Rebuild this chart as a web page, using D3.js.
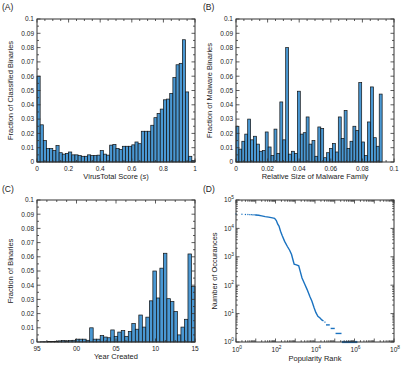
<!DOCTYPE html>
<html>
<head>
<meta charset="utf-8">
<script src="https://cdn.jsdelivr.net/npm/d3@7"></script>
<style>
  body { margin: 0; background: #fff; }
  text { font-family: "Liberation Sans", Arial, sans-serif; fill: #222; }
</style>
</head>
<body>
<div id="fig"></div>
<script>
const w = 415;
const h = 381;

// (A) VirusTotal score histogram, 50 bins over [0, 1]
const scoreRange = [0, 1];
const scoreFrac = [0.060, 0.026, 0.015, 0.0095, 0.0095, 0.008, 0.0115, 0.0065, 0.0055, 0.006,
  0.007, 0.005, 0.005, 0.0045, 0.004, 0.004, 0.005, 0.0045, 0.0045, 0.0048,
  0.008, 0.0055, 0.0048, 0.0118, 0.0123, 0.0095, 0.0088, 0.011, 0.011, 0.011,
  0.012, 0.014, 0.0128, 0.0215, 0.0215, 0.0215, 0.0257, 0.031, 0.034, 0.037,
  0.0435, 0.044, 0.048, 0.059, 0.068, 0.069, 0.0855, 0.049, 0.004, 0.001];
const scoreTicks = [0, 0.2, 0.4, 0.6, 0.8, 1];

// (B) relative family size histogram, 50 bins over [0, 0.0925]
const familyRange = [0, 0.0925];
const familyFrac = [0.025, 0.009, 0.0145, 0.0195, 0.030, 0.0155, 0.018, 0.0125, 0.0075, 0.008,
  0.021, 0.0105, 0.0045, 0.023, 0.006, 0.042, 0.0155, 0.080, 0.0055, 0.0075,
  0.006, 0.0495, 0.0195, 0.0205, 0.0315, 0.0125, 0.015, 0.004, 0.0245, 0.0235,
  0.003, 0.0065, 0.0095, 0.013, 0.007, 0.0315, 0.0165, 0.036, 0.0095, 0.0145,
  0.025, 0.022, 0.0555, 0.014, 0.0045, 0.028, 0.0525, 0.017, 0.011, 0.0475];
const familyTicks = [0, 0.02, 0.04, 0.06, 0.08, 0.1];

// (C) year created histogram, 45 bins over [1995, 2015]
const yearRange = [1995, 2015];
const yearFrac = [0, 0.0002, 0.0002, 0.0003, 0.0003, 0.0005, 0.0008, 0.001, 0.0008, 0.001,
  0.0012, 0.002, 0.002, 0.002, 0.0012, 0.010, 0.002, 0.002, 0.0045, 0.0035,
  0.003, 0.0085, 0.004, 0.007, 0.008, 0.004, 0.0075, 0.013, 0.009, 0.019,
  0.0105, 0.0175, 0.029, 0.050, 0.031, 0.052, 0.0625, 0.0305, 0.0285, 0.0215,
  0.005, 0.0105, 0.016, 0.062, 0.039];
const yearTicks = [1995, 2000, 2005, 2010, 2015];
const yearLabels = ["95", "00", "05", "10", "15"];

const fracTicks = [0, 0.01, 0.02, 0.03, 0.04, 0.05, 0.06, 0.07, 0.08, 0.09, 0.1];

// (D) popularity rank vs occurrences
const rank = [1, 2, 3, 4, 5, 6, 7, 8, 9, 10, 14, 20, 30, 45, 70, 90, 110, 130, 150, 180,
  220, 290, 400, 520, 650, 800, 880, 1150, 1500, 1800, 2200, 3000, 4000, 5500, 7000,
  9000, 11000, 14000, 18000, 22000, 27000];
const occur = [32000, 31500, 31000, 31000, 30500, 30500, 30000, 30000, 30000, 29500, 29000, 27500,
  26000, 25000, 23500, 22500, 19000, 14000, 12000, 8000, 5500, 3500, 2300, 1700, 1200,
  700, 550, 520, 480, 300, 180, 110, 70, 40, 27, 16, 11, 8, 7, 6, 5.5];
const tailLevel = [5, 4, 3, 2, 1];
const tailFrom = [30000, 36000, 62000, 110000, 230000];
const tailTo = [34000, 56000, 100000, 220000, 1400000];
const rankTicks = [1, 100, 1e4, 1e6, 1e8];
const occurTicks = [1, 10, 100, 1000, 1e4, 1e5];

const blue = "#4a98d3";
const axisCol = "#333";

const svg = d3.select("#fig").append("svg")
  .attr("width", w).attr("height", h);

const boxes = {
  A: { x0: 37, x1: 195, y0: 19, y1: 162 },
  B: { x0: 236, x1: 394, y0: 19, y1: 162 },
  C: { x0: 37, x1: 195, y0: 200, y1: 342 },
  D: { x0: 236, x1: 394, y0: 200, y1: 342 }
};

const tickFmt = d => d === 0 ? "0" : d3.format(".2~f")(d);

const minorsBetween = (ticks, n) => {
  const out = [];
  for (let i = 0; i < ticks.length - 1; i++) {
    const step = (ticks[i + 1] - ticks[i]) / n;
    for (let k = 1; k < n; k++) out.push(ticks[i] + k * step);
  }
  return out;
};

const frame = (g, b) => {
  g.append("rect")
    .attr("x", b.x0).attr("y", b.y0)
    .attr("width", b.x1 - b.x0).attr("height", b.y1 - b.y0)
    .attr("fill", "none").attr("stroke", axisCol).attr("stroke-width", 1);
};

const drawTicks = (g, b, xs, ys, xVals, yVals, len) => {
  g.selectAll(null).data(xVals).enter().append("path")
    .attr("d", d => `M${xs(d)},${b.y1}v${-len}M${xs(d)},${b.y0}v${len}`)
    .attr("stroke", axisCol).attr("stroke-width", 0.8);
  g.selectAll(null).data(yVals).enter().append("path")
    .attr("d", d => `M${b.x0},${ys(d)}h${len}M${b.x1},${ys(d)}h${-len}`)
    .attr("stroke", axisCol).attr("stroke-width", 0.8);
};

const panelLabel = (x, y, t) => {
  svg.append("text").attr("x", x).attr("y", y)
    .attr("font-size", 8.5).text(t);
};

const axisTitles = (g, b, xTitle, yTitle, xOff, yOff) => {
  const xt = g.append("text")
    .attr("x", (b.x0 + b.x1) / 2).attr("y", b.y1 + xOff)
    .attr("text-anchor", "middle").attr("font-size", 7.5);
  xTitle(xt);
  g.append("text")
    .attr("transform", `translate(${b.x0 - yOff},${(b.y0 + b.y1) / 2}) rotate(-90)`)
    .attr("text-anchor", "middle").attr("font-size", 7.5)
    .text(yTitle);
};

const histPanel = (b, range, values, xTicks, xLabels, xMinorN, xTitle, yTitle) => {
  const g = svg.append("g");
  const xs = d3.scaleLinear().domain([xTicks[0], xTicks[xTicks.length - 1]]).range([b.x0, b.x1]);
  const ys = d3.scaleLinear().domain([0, 0.1]).range([b.y1, b.y0]);
  const bw = (range[1] - range[0]) / values.length;

  g.selectAll("rect.bar").data(values).enter().append("rect")
    .attr("class", "bar")
    .attr("x", (d, i) => xs(range[0] + i * bw))
    .attr("y", d => ys(d))
    .attr("width", xs(range[0] + bw) - xs(range[0]))
    .attr("height", d => ys(0) - ys(d))
    .attr("fill", blue)
    .attr("stroke", "#111")
    .attr("stroke-width", 0.7);

  frame(g, b);
  drawTicks(g, b, xs, ys, xTicks, fracTicks, 3.5);
  drawTicks(g, b, xs, ys, minorsBetween(xTicks, xMinorN), minorsBetween(fracTicks, 2), 2);

  g.selectAll(null).data(xTicks).enter().append("text")
    .attr("x", d => xs(d)).attr("y", b.y1 + 9)
    .attr("text-anchor", "middle").attr("font-size", 6.5)
    .text((d, i) => xLabels[i]);
  g.selectAll(null).data(fracTicks).enter().append("text")
    .attr("x", b.x0 - 3).attr("y", d => ys(d) + 2.3)
    .attr("text-anchor", "end").attr("font-size", 6.5)
    .text(tickFmt);

  axisTitles(g, b, xTitle, yTitle, 17, 24);
};

// (A)
histPanel(boxes.A, scoreRange, scoreFrac, scoreTicks, scoreTicks.map(tickFmt), 4,
  t => { t.append("tspan").text("VirusTotal Score ("); t.append("tspan").attr("font-style", "italic").text("s"); t.append("tspan").text(")"); },
  "Fraction of Classified Binaries");
panelLabel(2, 10, "(A)");

// (B)
histPanel(boxes.B, familyRange, familyFrac, familyTicks, familyTicks.map(tickFmt), 4,
  t => t.text("Relative Size of Malware Family"),
  "Fraction of Malware Binaries");
panelLabel(203, 10, "(B)");

// (C)
histPanel(boxes.C, yearRange, yearFrac, yearTicks, yearLabels, 4,
  t => t.text("Year Created"),
  "Fraction of Binaries");
panelLabel(2, 192, "(C)");

// (D)
{
  const b = boxes.D;
  const g = svg.append("g");
  const xs = d3.scaleLog().domain([1, 1e8]).range([b.x0, b.x1]);
  const ys = d3.scaleLog().domain([1, 1e5]).range([b.y1, b.y0]);
  const line = "#1a72c0";

  const pts = rank.map((r, i) => [r, occur[i]]);
  // sparse ranks drawn as dots, the rest as a line
  g.selectAll("circle").data(pts.filter(p => p[0] <= 10)).enter().append("circle")
    .attr("cx", d => xs(d[0])).attr("cy", d => ys(d[1]))
    .attr("r", 0.7).attr("fill", line);
  g.append("path")
    .datum(pts.filter(p => p[0] >= 10))
    .attr("d", d3.line().x(d => xs(d[0])).y(d => ys(d[1])))
    .attr("fill", "none").attr("stroke", line).attr("stroke-width", 1.4);
  g.selectAll("line.tail").data(tailLevel).enter().append("line")
    .attr("class", "tail")
    .attr("x1", (d, i) => xs(tailFrom[i])).attr("x2", (d, i) => xs(tailTo[i]))
    .attr("y1", d => ys(d)).attr("y2", d => ys(d))
    .attr("stroke", line).attr("stroke-width", (d) => d === 1 ? 2.2 : 1.4);

  frame(g, b);
  const decX = d3.range(0, 9).map(e => Math.pow(10, e));
  const decY = d3.range(0, 6).map(e => Math.pow(10, e));
  const minor = decs => decs.slice(0, -1).flatMap(d => d3.range(2, 10).map(k => k * d));
  drawTicks(g, b, xs, ys, decX, decY, 3.5);
  drawTicks(g, b, xs, ys, minor(decX), minor(decY), 1.8);

  const sup = (sel, e) => {
    sel.append("tspan").text("10");
    sel.append("tspan").attr("dy", -3.2).attr("font-size", 4.8).text(e);
  };
  g.selectAll(null).data(rankTicks).enter().append("text")
    .attr("x", d => xs(d) + 1).attr("y", b.y1 + 10)
    .attr("text-anchor", "middle").attr("font-size", 6.5)
    .each(function (d) { sup(d3.select(this), Math.round(Math.log10(d))); });
  g.selectAll(null).data(occurTicks).enter().append("text")
    .attr("x", b.x0 - 2).attr("y", d => ys(d) + 2.3)
    .attr("text-anchor", "end").attr("font-size", 6.5)
    .each(function (d) { sup(d3.select(this), Math.round(Math.log10(d))); });

  axisTitles(g, b, t => t.text("Popularity Rank"), "Number of Occurances", 19, 19);
  panelLabel(203, 192, "(D)");
}
</script>
</body>
</html>
